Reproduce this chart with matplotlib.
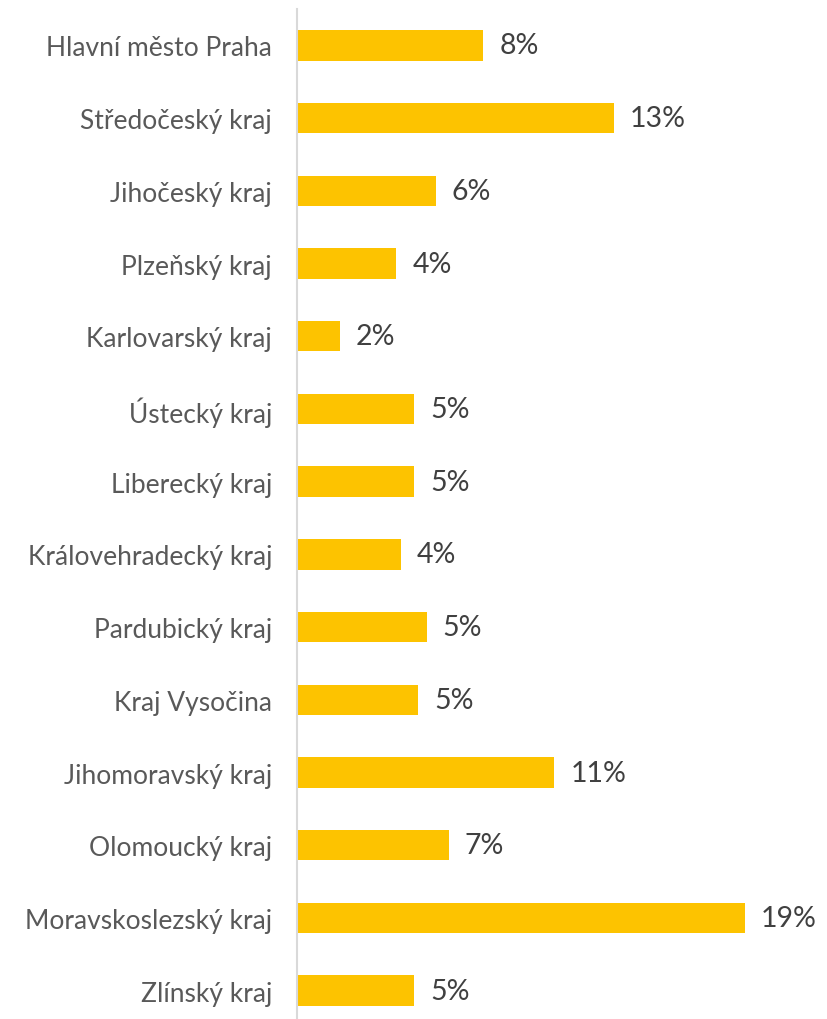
import matplotlib.pyplot as plt

plt.rcParams['font.family'] = ['Lato', 'DejaVu Sans']

# Data (shares of regions, %)
regions = [
    'Hlavní město Praha', 'Středočeský kraj', 'Jihočeský kraj', 'Plzeňský kraj',
    'Karlovarský kraj', 'Ústecký kraj', 'Liberecký kraj', 'Královehradecký kraj',
    'Pardubický kraj', 'Kraj Vysočina', 'Jihomoravský kraj', 'Olomoucký kraj',
    'Moravskoslezský kraj', 'Zlínský kraj',
]
values = [7.93, 13.49, 5.90, 4.23, 1.82, 4.98, 4.98, 4.41, 5.52, 5.15, 10.95, 6.46, 19.06, 4.99]
value_labels = ['8%', '13%', '6%', '4%', '2%', '5%', '5%', '4%', '5%', '5%', '11%', '7%', '19%', '5%']

bar_color = '#FDC300'
label_color = '#595959'
value_color = '#404040'

fig = plt.figure(figsize=(8.27, 10.2), dpi=100)
ax = fig.add_axes([297 / 827, -8 / 1020, 530 / 827, 1018 / 1020])

ypos = list(range(len(regions)))
ax.barh(ypos, values, height=0.42, color=bar_color)

for y, v, lab in zip(ypos, values, value_labels):
    ax.annotate(lab, (v, y), xytext=(16, 0), textcoords='offset pixels',
                va='center', ha='left', fontsize=20.5, color=value_color)

ax.set_xlim(0, 530 / 23.5)
ax.set_ylim(len(regions) - 0.5, -0.5)
ax.set_yticks(ypos)
ax.set_yticklabels(regions, fontsize=19, color=label_color)
ax.tick_params(axis='y', length=0, pad=18)
ax.set_xticks([])

for side in ['top', 'right', 'bottom']:
    ax.spines[side].set_visible(False)
ax.spines['left'].set_color('#D9D9D9')
ax.spines['left'].set_linewidth(1.5)

plt.savefig('out.png', dpi=100)
